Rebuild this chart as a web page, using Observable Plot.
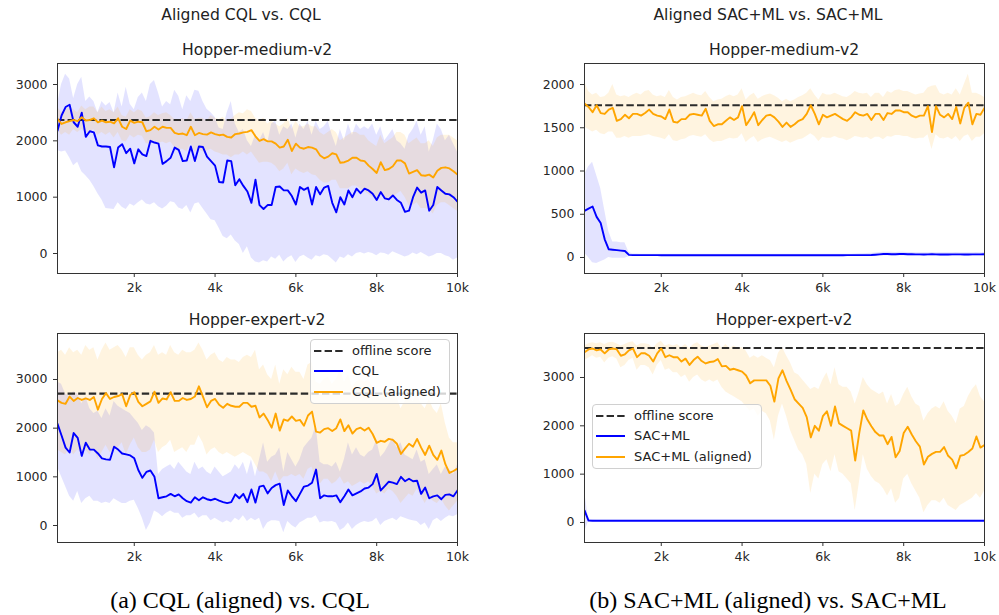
<!DOCTYPE html>
<html>
<head>
<meta charset="utf-8">
<script src="https://cdn.jsdelivr.net/npm/d3@7"></script>
<script src="https://cdn.jsdelivr.net/npm/@observablehq/plot@0.6"></script>
<style>
  html, body { margin: 0; padding: 0; background: #fff; }
  #root { position: relative; width: 999px; height: 615px; background: #fff; overflow: hidden; font-family: "DejaVu Sans", sans-serif; color: #222; }
  .abs { position: absolute; }
  .sup { font-size: 15.6px; text-align: center; white-space: nowrap; line-height: 20px; }
  .ptitle { font-size: 15.6px; text-align: center; white-space: nowrap; line-height: 20px; }
  .cap { font-family: "Liberation Serif", "Times New Roman", serif; font-size: 24px; text-align: center; white-space: nowrap; line-height: 28px; color: #000; }
  .legend { position: absolute; background: rgba(255,255,255,0.8); border: 1px solid #d0d0d0; border-radius: 4px; box-sizing: border-box; font-size: 13px; }
  .legend .lab { position: absolute; white-space: nowrap; line-height: 16px; }
  .legend svg { position: absolute; overflow: visible; }
</style>
</head>
<body>
<div id="root"></div>
<script>
// ---------------- data ----------------
const steps = [100,200,300,400,500,600,700,800,900,1000,1100,1200,1300,1400,1500,1600,1700,1800,1900,2000,
2100,2200,2300,2400,2500,2600,2700,2800,2900,3000,3100,3200,3300,3400,3500,3600,3700,3800,3900,4000,
4100,4200,4300,4400,4500,4600,4700,4800,4900,5000,5100,5200,5300,5400,5500,5600,5700,5800,5900,6000,
6100,6200,6300,6400,6500,6600,6700,6800,6900,7000,7100,7200,7300,7400,7500,7600,7700,7800,7900,8000,
8100,8200,8300,8400,8500,8600,8700,8800,8900,9000,9100,9200,9300,9400,9500,9600,9700,9800,9900,10000];

const superTitles = ["Aligned CQL vs. CQL", "Aligned SAC+ML vs. SAC+ML"];
const panelTitles = ["Hopper-medium-v2", "Hopper-medium-v2", "Hopper-expert-v2", "Hopper-expert-v2"];
const captions = ["(a) CQL (aligned) vs. CQL", "(b) SAC+ML (aligned) vs. SAC+ML"];
const legendCQL = ["offline score", "CQL", "CQL (aligned)"];
const legendSAC = ["offline score", "SAC+ML", "SAC+ML (aligned)"];
const xTicks = [2000, 4000, 6000, 8000, 10000];
const xTickLabels = ["2k", "4k", "6k", "8k", "10k"];
const yTicksA = [0, 1000, 2000, 3000];
const yTicksB = [0, 500, 1000, 1500, 2000];
const offlineScores = [2370, 1760, 2710, 3610];

// Panel 1: Hopper-medium-v2, CQL
const cqlMedMean = [2180,2450,2600,2640,2330,2250,2500,2070,2170,2150,1920,1900,1900,1890,1530,1880,1940,1780,1860,1600,
1850,1760,1730,2000,1970,1950,1590,1640,1700,1880,1840,1640,1650,1900,1640,1900,1890,1720,1640,1560,
1270,1260,1650,1640,1210,1320,1200,1100,900,1310,860,790,860,860,1180,1190,1120,1120,1020,870,
1180,1130,1170,870,1180,1050,1170,1200,900,730,1000,870,1120,1000,1150,1070,1150,1120,1060,950,
1090,980,960,1030,950,900,740,760,1000,1170,1080,1120,760,860,1180,1120,1060,1050,1000,920];
const cqlMedHi = [2650,3000,3180,3100,2750,3000,3130,2700,2780,2700,2500,2700,2620,2680,2500,2850,2600,2950,2650,2550,
2770,2850,2700,3000,3070,2850,2600,2700,2640,2900,2790,2550,2800,2700,2900,2880,2700,2560,2500,2420,
2230,2200,2500,2700,2300,2150,2200,2000,1900,2100,2000,2150,1950,2300,2350,2100,2250,2200,2300,2050,
2300,2200,2350,2100,2350,2200,2250,2350,2100,1900,2200,2000,2300,2100,2300,2200,2250,2200,2300,2100,
2250,2000,2100,2200,2000,1950,1850,2100,2200,2350,2100,2250,1800,2000,2300,2200,2000,2100,1950,1800];
const cqlMedLo = [1830,1800,1820,1700,1560,1620,1450,1380,1300,1190,1060,950,800,790,780,900,820,780,880,840,
900,950,880,860,900,830,790,840,920,900,810,780,850,720,880,900,800,700,600,580,
450,300,260,330,220,160,0,120,-80,-150,-170,-130,-150,-60,-100,-30,-150,-80,-40,-160,
-60,-30,-80,-120,-40,-60,-20,-40,-100,-170,-60,-90,-20,-60,0,20,-10,20,0,-40,
10,0,-30,30,0,-30,-60,-40,10,-20,20,-20,-60,-40,0,0,-40,-60,-120,-80];
const cqlAlMedMean = [2390,2300,2330,2350,2370,2350,2420,2360,2370,2400,2330,2360,2330,2340,2310,2400,2250,2210,2360,2320,
2340,2330,2170,2190,2250,2200,2250,2230,2230,2140,2120,2130,2100,2250,2100,2140,2120,2110,2150,2120,
2100,2110,2070,2060,2120,2130,2150,2160,2190,2080,2000,2030,1990,1990,1950,1880,1900,2020,1820,1950,
1880,1860,1890,1880,1850,1740,1690,1720,1780,1760,1610,1620,1650,1700,1700,1650,1640,1560,1500,1430,
1620,1480,1500,1550,1650,1650,1600,1420,1450,1480,1390,1380,1400,1350,1470,1520,1530,1510,1460,1400];
const cqlAlMedHi = [2600,2500,2550,2600,2550,2500,2620,2550,2600,2600,2500,2600,2520,2550,2500,2600,2450,2420,2550,2500,
2550,2520,2400,2430,2500,2450,2480,2500,2450,2380,2350,2400,2350,2500,2380,2400,2400,2350,2450,2400,
2380,2420,2350,2380,2450,2500,2480,2550,2520,2400,2350,2400,2300,2350,2300,2250,2300,2400,2200,2350,
2250,2250,2300,2250,2250,2150,2100,2150,2200,2150,2000,2050,2100,2150,2150,2100,2100,2000,1950,1900,
2100,1950,2000,2050,2150,2150,2100,1950,2000,2050,1950,1950,2000,1900,2050,2100,2100,2100,2050,2000];
const cqlAlMedLo = [2200,2100,2150,2100,2200,2150,2200,2150,2150,2200,2100,2150,2100,2150,2050,2150,2000,1980,2100,2050,
2100,2080,1950,1950,2000,1950,1980,1950,1980,1880,1850,1850,1800,1950,1800,1850,1800,1820,1850,1800,
1780,1750,1750,1700,1750,1750,1800,1750,1800,1700,1600,1620,1620,1600,1550,1450,1500,1600,1400,1500,
1450,1420,1450,1400,1380,1300,1250,1250,1300,1300,1150,1150,1150,1200,1200,1150,1100,1050,1000,950,
1100,950,950,1000,1050,1100,1000,850,850,900,800,800,780,700,850,900,900,850,800,750];

// Panel 2: Hopper-medium-v2, SAC+ML
const sacMedMean = [540,565,590,470,400,210,95,90,85,80,75,30,28,28,27,27,27,27,27,26,
26,26,26,26,26,26,26,26,26,26,26,26,26,26,26,26,26,26,26,26,
26,26,26,26,26,26,26,26,26,26,26,26,26,26,26,26,26,26,26,26,
26,26,26,26,26,27,27,27,28,28,28,29,32,36,40,40,38,38,40,40,
38,38,36,36,34,36,38,36,34,34,35,36,36,36,35,35,36,36,36,38];
const sacMedHi = [950,1050,1100,950,800,550,300,180,180,170,170,60,40,40,38,38,38,38,38,37,
37,37,37,37,37,37,37,37,37,37,37,37,37,37,37,37,37,37,37,37,
37,37,37,37,37,37,37,37,37,37,37,37,37,37,37,37,37,37,37,37,
37,37,37,37,37,38,38,40,42,44,45,48,52,58,62,62,60,58,62,60,
58,58,56,56,54,56,58,56,54,54,55,56,58,56,55,55,56,58,56,58];
const sacMedLo = [50,0,-60,-70,-50,-30,0,-10,-10,-10,-10,10,16,16,16,16,16,16,16,15,
15,15,15,15,15,15,15,15,15,15,15,15,15,15,15,15,15,15,15,15,
15,15,15,15,15,15,15,15,15,15,15,15,15,15,15,15,15,15,15,15,
15,15,15,15,15,16,16,15,15,14,13,12,14,16,20,20,18,18,20,20,
18,18,16,16,14,16,18,16,14,14,15,16,16,16,15,15,16,16,16,18];
const sacAlMedMean = [1780,1740,1680,1760,1670,1660,1710,1730,1580,1600,1650,1610,1660,1660,1640,1670,1710,1660,1640,1630,
1600,1710,1570,1560,1600,1600,1650,1660,1650,1640,1720,1580,1520,1540,1540,1580,1620,1590,1620,1750,
1530,1600,1680,1530,1590,1640,1650,1620,1570,1510,1560,1510,1540,1580,1600,1660,1760,1660,1540,1650,
1620,1640,1660,1630,1600,1580,1620,1680,1650,1640,1660,1590,1660,1660,1590,1670,1660,1700,1700,1680,
1680,1640,1620,1640,1640,1750,1450,1750,1650,1620,1660,1600,1740,1550,1730,1790,1540,1660,1650,1730];
const sacAlMedHi = [2040,1920,1880,1900,1850,1860,1900,2000,1880,1860,1870,1850,1880,1900,1880,1920,1930,1880,1860,1870,
1850,1930,1850,1820,1850,1860,1880,1900,1880,1870,1920,1850,1800,1820,1830,1860,1880,1860,1880,1950,
1820,1870,1900,1830,1860,1880,1890,1870,1840,1800,1830,1800,1820,1850,1870,1900,1950,1880,1820,1900,
1880,1880,1900,1880,1860,1850,1880,1920,1900,1890,1900,1850,1900,1900,1850,1920,1900,1930,1940,1920,
1920,1900,1880,1890,1900,1960,1980,1990,1900,1880,1900,1880,1950,1880,2000,2120,1900,1900,1880,1850];
const sacAlMedLo = [1510,1480,1450,1470,1430,1420,1450,1450,1380,1380,1400,1380,1400,1400,1400,1410,1420,1400,1390,1380,
1360,1420,1350,1340,1360,1370,1400,1410,1400,1390,1420,1360,1330,1340,1340,1360,1380,1370,1380,1430,
1330,1370,1400,1330,1360,1380,1390,1370,1350,1330,1350,1320,1340,1360,1370,1400,1430,1400,1340,1390,
1380,1380,1400,1380,1370,1350,1370,1400,1390,1380,1390,1360,1390,1390,1360,1400,1390,1410,1410,1400,
1400,1380,1370,1380,1380,1420,1250,1420,1380,1370,1390,1360,1400,1340,1400,1420,1340,1390,1390,1430];

// Panel 3: Hopper-expert-v2, CQL
const cqlExpMean = [2090,1850,1600,1500,1900,1800,1430,1700,1560,1560,1480,1380,1360,1350,1620,1560,1480,1460,1440,1380,
1140,980,1100,1130,1000,560,580,600,650,600,640,560,500,470,580,520,580,540,520,550,
510,480,460,480,640,560,650,480,740,470,800,820,660,770,830,860,420,720,600,500,
650,800,820,880,1150,560,620,600,600,620,480,600,740,620,660,700,760,780,850,1060,
720,810,900,880,850,1000,910,960,910,920,650,780,560,600,620,540,630,640,600,720];
const cqlExpHi = [2950,2900,2700,2650,2750,2700,2500,2650,2400,2300,2350,2200,2400,2250,2550,2450,2400,2350,2300,2200,
2100,1950,2050,2000,1900,1050,1150,1200,1250,1150,1300,1200,1100,1050,1300,1150,1200,1100,1050,1200,
1100,1000,1050,1100,1250,1150,1300,1050,1350,1000,1350,1700,1300,1400,1450,1600,1100,1500,1350,1200,
1350,1600,1700,1800,2050,1300,1250,1250,1200,1300,1100,1350,1700,1450,1600,1450,1400,1500,1550,1750,
1400,1500,1650,1800,1600,1700,1450,1400,1350,1550,1300,1350,1050,1150,1250,1050,1200,1150,1050,1250];
const cqlExpLo = [1200,1000,800,600,500,700,450,550,600,500,500,450,480,450,550,500,450,450,500,520,
350,150,-100,50,300,250,180,250,300,250,250,150,200,200,250,150,200,200,100,150,
100,50,100,50,150,100,200,80,150,100,150,-80,50,100,100,80,-150,80,0,-50,
50,100,150,150,200,50,80,70,80,50,-100,-50,50,-80,0,50,80,60,80,150,
0,80,120,150,100,180,150,120,100,80,0,50,-80,100,150,80,150,200,180,220];
const cqlAlExpMean = [2570,2520,2500,2650,2560,2620,2580,2610,2580,2640,2380,2600,2720,2600,2640,2660,2700,2450,2680,2740,
2540,2450,2500,2550,2750,2520,2610,2590,2740,2560,2560,2620,2580,2600,2650,2860,2650,2430,2560,2600,
2480,2420,2500,2460,2440,2440,2520,2520,2440,2460,2220,2300,2170,2010,2300,1950,2180,2150,2240,2150,
2170,2050,2260,2340,1930,1910,1980,2000,1940,2000,2180,1940,2060,1890,1980,2010,1950,2010,1880,1700,
1740,1720,1780,1760,1680,1470,1580,1680,1620,1780,1600,1450,1640,1450,1350,1540,1260,1080,1120,1170];
const cqlAlExpHi = [3550,3600,3500,3650,3550,3600,3500,3700,3600,3650,3400,3600,3750,3600,3650,3700,3600,3450,3650,3650,
3500,3400,3500,3550,3700,3500,3550,3500,3700,3550,3500,3600,3550,3550,3600,3750,3600,3400,3500,3550,
3400,3350,3450,3400,3400,3350,3450,3500,3450,3600,3200,3300,3100,3000,3300,2900,3200,3100,3250,3150,
3150,3000,3300,3350,2950,2900,3000,3050,2900,3000,3200,2950,3100,2850,2950,3000,2950,3000,2850,2650,
2700,2700,2750,2700,2650,2400,2550,2650,2550,2700,2500,2400,2600,2400,2300,2500,2100,1800,1700,1700];
const cqlAlExpLo = [1550,1500,1450,1600,1450,1550,1500,1550,1450,1600,1350,1500,1650,1500,1550,1600,1700,1450,1650,1800,
1600,1500,1500,1550,1750,1500,1600,1650,1750,1500,1550,1600,1500,1650,1650,1850,1700,1450,1550,1600,
1500,1450,1500,1450,1400,1450,1500,1450,1400,1250,1100,1100,1050,900,1100,900,1000,1000,1050,1000,
1050,950,1150,1200,900,850,950,950,850,900,1000,850,900,800,850,900,850,900,800,650,
700,650,750,700,600,450,550,650,600,750,600,450,600,500,450,550,400,300,400,500];

// Panel 4: Hopper-expert-v2, SAC+ML
const sacExpMean = [250,40,36,35,35,35,35,35,35,35,35,35,35,35,35,35,35,35,35,35,
35,35,35,35,35,35,35,35,35,35,35,35,35,35,35,35,35,35,35,35,
35,35,35,35,35,35,35,35,35,35,35,35,35,35,35,35,35,35,35,35,
35,35,35,35,35,35,35,35,35,35,35,35,35,35,35,35,35,35,35,35,
35,35,35,35,35,35,35,35,35,35,35,35,35,35,35,35,35,35,35,35];
const sacExpHi = [650,70,50,48,48,48,48,48,48,48,48,48,48,48,48,48,48,48,48,48,
48,48,48,48,48,48,48,48,48,48,48,48,48,48,48,48,48,48,48,48,
48,48,48,48,48,48,48,48,48,48,48,48,48,48,48,48,48,48,48,48,
48,48,48,48,48,48,48,48,48,48,48,48,48,48,48,48,48,48,48,48,
48,48,48,48,48,48,48,48,48,48,48,48,48,48,48,48,48,48,48,48];
const sacExpLo = [-200,15,22,22,22,22,22,22,22,22,22,22,22,22,22,22,22,22,22,22,
22,22,22,22,22,22,22,22,22,22,22,22,22,22,22,22,22,22,22,22,
22,22,22,22,22,22,22,22,22,22,22,22,22,22,22,22,22,22,22,22,
22,22,22,22,22,22,22,22,22,22,22,22,22,22,22,22,22,22,22,22,
22,22,22,22,22,22,22,22,22,22,22,22,22,22,22,22,22,22,22,22];
const sacAlExpMean = [3520,3580,3600,3560,3580,3500,3580,3600,3580,3450,3480,3560,3600,3420,3500,3500,3450,3330,3500,3600,
3420,3460,3420,3420,3330,3390,3260,3360,3430,3340,3290,3320,3330,3380,3230,3240,3160,3180,3150,3120,
3040,2880,2940,2940,2940,2940,2830,2500,2980,3150,2930,2750,2550,2460,2370,2180,1760,2000,1900,2200,
2300,2000,2400,2050,2000,1950,1900,1280,1850,2320,2130,1990,1870,1800,1800,1620,1770,1350,1480,1850,
1980,1820,1680,1570,1200,1360,1420,1460,1460,1560,1380,1300,1120,1380,1400,1460,1530,1780,1550,1600];
const sacAlExpHi = [3650,3700,3720,3700,3720,3680,3720,3730,3700,3650,3680,3720,3740,3650,3700,3700,3680,3600,3700,3750,
3650,3680,3650,3680,3620,3680,3600,3680,3720,3650,3620,3650,3680,3720,3600,3680,3600,3650,3600,3620,
3550,3400,3450,3400,3450,3400,3350,3200,3500,3620,3450,3300,3100,3050,2950,2850,2750,2800,2750,2950,
3100,2850,3200,2850,2800,2800,2700,2450,2700,3000,2850,2750,2700,2650,2700,2450,2650,2400,2450,2650,
2800,2600,2450,2400,2100,2250,2350,2400,2350,2500,2300,2200,2050,2350,2400,2600,2750,2850,2600,2500];
const sacAlExpLo = [3350,3400,3450,3400,3420,3300,3400,3430,3380,3200,3250,3350,3400,3150,3250,3250,3200,3050,3250,3350,
3150,3180,3100,3100,3000,3050,2900,3000,3050,2950,2900,2950,2900,2950,2800,2700,2650,2600,2550,2500,
2400,2300,2350,2200,2300,2250,2100,1700,2200,2450,2200,1900,1700,1500,1400,1200,600,1000,900,1200,
1300,1050,1400,1050,1000,900,800,250,800,1400,1100,950,850,800,700,550,700,400,500,900,
1000,800,650,500,200,350,450,450,400,500,350,300,250,350,400,450,500,600,500,650];

// ---------------- drawing ----------------
const BLUE = "#0000ff", ORANGE = "#ffa500", DASH = "#2b2b2b";
const root = document.getElementById("root");

function rows(mean, lo, hi) {
  return steps.map((s, i) => ({step: s, mean: mean[i], lo: lo[i], hi: hi[i]}));
}

function addText(cls, text, left, top, width) {
  const d = document.createElement("div");
  d.className = "abs " + cls;
  d.textContent = text;
  d.style.left = left + "px";
  d.style.top = top + "px";
  d.style.width = width + "px";
  root.appendChild(d);
}

function panel(o) {
  const blue = rows(o.b[0], o.b[1], o.b[2]);
  const orng = rows(o.a[0], o.a[1], o.a[2]);
  const svg = Plot.plot({
    width: o.width, height: o.height,
    marginLeft: o.ml, marginRight: o.mr, marginTop: o.mt, marginBottom: o.mb,
    style: {fontFamily: "DejaVu Sans", fontSize: "12.5px", color: "#262626", background: "transparent", overflow: "visible"},
    x: {domain: [100, 10000]},
    y: {domain: o.ydom},
    marks: [
      Plot.areaY(blue, {x: "step", y1: "lo", y2: "hi", fill: BLUE, fillOpacity: 0.11, curve: "linear", clip: true}),
      Plot.areaY(orng, {x: "step", y1: "lo", y2: "hi", fill: ORANGE, fillOpacity: 0.12, curve: "linear", clip: true}),
      Plot.ruleY([o.offline], {stroke: DASH, strokeWidth: 2.1, strokeDasharray: "7.4,3.2"}),
      Plot.lineY(blue, {x: "step", y: "mean", stroke: BLUE, strokeWidth: 1.9, clip: true}),
      Plot.lineY(orng, {x: "step", y: "mean", stroke: ORANGE, strokeWidth: 1.9, clip: true}),
      Plot.frame({stroke: "#333", strokeWidth: 1}),
      Plot.axisX({ticks: xTicks, tickFormat: d => xTickLabels[xTicks.indexOf(d)], tickSize: 4, tickPadding: 6, label: null, stroke: "#333"}),
      Plot.axisY({ticks: o.yticks, tickFormat: d => String(d), tickSize: 4, tickPadding: 6, label: null, stroke: "#333"})
    ]
  });
  svg.style.position = "absolute";
  svg.style.left = o.left + "px";
  svg.style.top = o.top + "px";
  root.appendChild(svg);
}

function legend(labels, left, top, width, height) {
  const box = document.createElement("div");
  box.className = "legend";
  box.style.left = left + "px"; box.style.top = top + "px";
  box.style.width = width + "px"; box.style.height = height + "px";
  const styles = [{c: DASH, d: "7.4,3.2"}, {c: BLUE, d: null}, {c: ORANGE, d: null}];
  const rowsY = [12, 32, 52.5];
  labels.forEach((lab, i) => {
    const s = document.createElementNS("http://www.w3.org/2000/svg", "svg");
    s.setAttribute("width", 30); s.setAttribute("height", 4);
    s.style.left = "3px"; s.style.top = (rowsY[i] - 2 - 1) + "px";
    const ln = document.createElementNS("http://www.w3.org/2000/svg", "line");
    ln.setAttribute("x1", 0); ln.setAttribute("x2", 29); ln.setAttribute("y1", 2); ln.setAttribute("y2", 2);
    ln.setAttribute("stroke", styles[i].c); ln.setAttribute("stroke-width", 2);
    if (styles[i].d) ln.setAttribute("stroke-dasharray", styles[i].d);
    s.appendChild(ln);
    box.appendChild(s);
    const t = document.createElement("div");
    t.className = "lab";
    t.textContent = lab;
    t.style.left = "41px"; t.style.top = (rowsY[i] - 8 - 1) + "px";
    box.appendChild(t);
  });
  root.appendChild(box);
}

addText("sup", superTitles[0], 57, 5, 368);
addText("sup", superTitles[1], 584, 5, 368);
addText("ptitle", panelTitles[0], 57, 40, 400);
addText("ptitle", panelTitles[1], 584, 40, 400);
addText("ptitle", panelTitles[2], 57, 310, 400);
addText("ptitle", panelTitles[3], 584, 310, 400);

panel({left: 0, top: 40, width: 470, height: 265, ml: 57, mr: 13, mt: 23, mb: 32,
  ydom: [-355, 3373], yticks: yTicksA, offline: offlineScores[0],
  b: [cqlMedMean, cqlMedLo, cqlMedHi], a: [cqlAlMedMean, cqlAlMedLo, cqlAlMedHi]});
panel({left: 520, top: 40, width: 479, height: 265, ml: 64, mr: 15, mt: 23, mb: 32,
  ydom: [-185, 2243], yticks: yTicksB, offline: offlineScores[1],
  b: [sacMedMean, sacMedLo, sacMedHi], a: [sacAlMedMean, sacAlMedLo, sacAlMedHi]});
panel({left: 0, top: 310, width: 470, height: 265, ml: 57, mr: 13, mt: 23, mb: 33,
  ydom: [-349, 3945], yticks: yTicksA, offline: offlineScores[2],
  b: [cqlExpMean, cqlExpLo, cqlExpHi], a: [cqlAlExpMean, cqlAlExpLo, cqlAlExpHi]});
panel({left: 520, top: 310, width: 479, height: 265, ml: 64, mr: 15, mt: 23, mb: 33,
  ydom: [-414, 3910], yticks: yTicksA, offline: offlineScores[3],
  b: [sacExpMean, sacExpLo, sacExpHi], a: [sacAlExpMean, sacAlExpLo, sacAlExpHi]});

legend(legendCQL, 310, 339, 140, 65);
legend(legendSAC, 592, 404, 170, 65);

addText("cap", captions[0], 0, 586, 480);
addText("cap", captions[1], 528, 586, 480);
</script>
</body>
</html>
